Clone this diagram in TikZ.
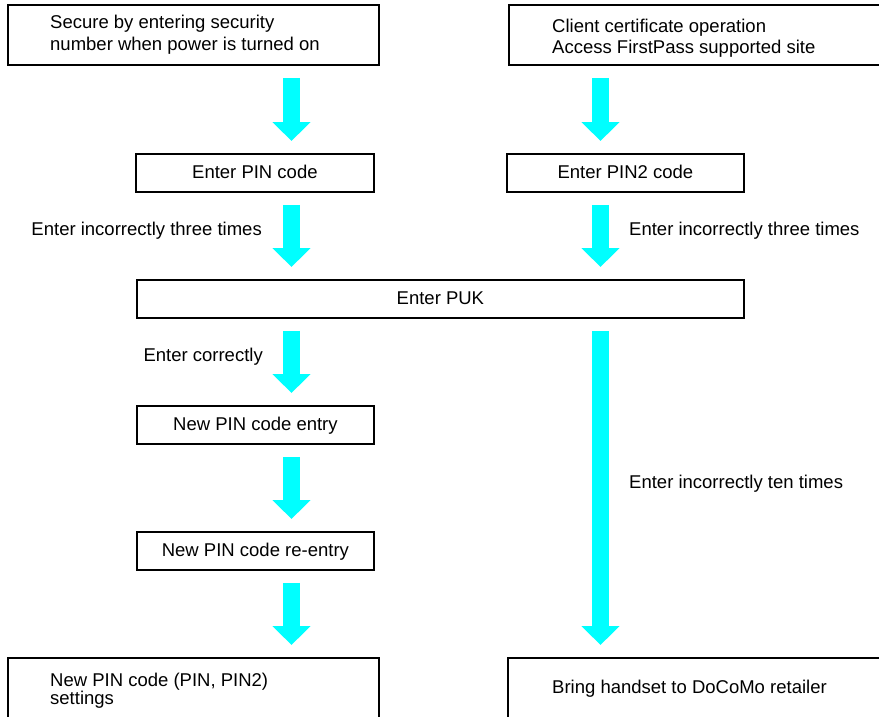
\documentclass[tikz,border=0pt]{standalone}
\usepackage{fontspec}
\setmainfont{Liberation Sans}
\usetikzlibrary{arrows.meta}
\definecolor{flowcyan}{HTML}{00FFFF}
\begin{document}
\begin{tikzpicture}[x=1pt, y=-1pt,
  every node/.style={inner sep=0pt, font=\fontsize{18.5}{21.7}\selectfont},
  box/.style={draw=black, line width=1.8pt, rectangle, anchor=north west,
    minimum height=38pt},
  stepbox/.style={box, text height=13.3pt, text depth=1.5pt},
  txt/.style={anchor=base west, align=left},
  flow/.style={draw=flowcyan, line width=17.5pt,
    -{Triangle[width=37pt,length=19pt]}, shorten <=12pt, shorten >=12pt}]

  \useasboundingbox (0,0) rectangle (879,716);
  \clip (0,0) rectangle (879,716);

  % arrow columns
  \coordinate (colL) at (291.5,0);
  \coordinate (colR) at (600.5,0);

  % entry points (multi-line texts are placed by the baseline of their last line)
  \node[box, minimum width=371pt, minimum height=60pt] (power) at (7,4) {};
  \node[txt] (powerT) at (50,50) {Secure by entering security\\number when power is turned on};
  \node[box, minimum width=400pt, minimum height=60pt] (cert) at (508,4) {};
  \node[txt, font=\fontsize{18.5}{21}\selectfont] (certT) at (552,53.3) {Client certificate operation\\Access FirstPass supported site};

  % code entry steps
  \node[stepbox, minimum width=238pt] (pin) at (135,153) {Enter PIN code};
  \node[stepbox, minimum width=237pt] (pin2) at (506,153) {Enter PIN2 code};
  \node[stepbox, minimum width=607pt] (puk) at (136,279) {Enter PUK};
  \node[stepbox, minimum width=237pt] (newpin) at (136,405) {New PIN code entry};
  \node[stepbox, minimum width=237pt] (reentry) at (136,531) {New PIN code re-entry};

  % outcomes
  \node[box, minimum width=371pt, minimum height=80pt] (settings) at (7,657) {};
  \node[txt, font=\fontsize{18.5}{17.5}\selectfont] (settingsT) at (50,704) {New PIN code (PIN, PIN2)\\settings};
  \node[box, minimum width=400pt, minimum height=80pt] (retailer) at (507,657) {};
  \node[txt] (retailerT) at (552,693) {Bring handset to DoCoMo retailer};

  % flow arrows
  \draw[flow] (power.south -| colL) -- (pin.north -| colL);
  \draw[flow] (cert.south -| colR) -- (pin2.north -| colR);
  \draw[flow] (pin.south -| colL) -- (puk.north -| colL);
  \draw[flow] (pin2.south -| colR) -- (puk.north -| colR);
  \draw[flow] (puk.south -| colL) -- (newpin.north -| colL);
  \draw[flow] (newpin.south -| colL) -- (reentry.north -| colL);
  \draw[flow] (reentry.south -| colL) -- (settings.north -| colL);
  \draw[flow] (puk.south -| colR) -- (retailer.north -| colR);

  % arrow labels
  \node[anchor=base east] (wrong3L) at (262,235) {Enter incorrectly three times};
  \node[anchor=base west] (wrong3R) at (629,235) {Enter incorrectly three times};
  \node[anchor=base east] (right) at (263,361.7) {Enter correctly};
  \node[anchor=base west] (wrong10) at (629,488) {Enter incorrectly ten times};
\end{tikzpicture}
\end{document}
